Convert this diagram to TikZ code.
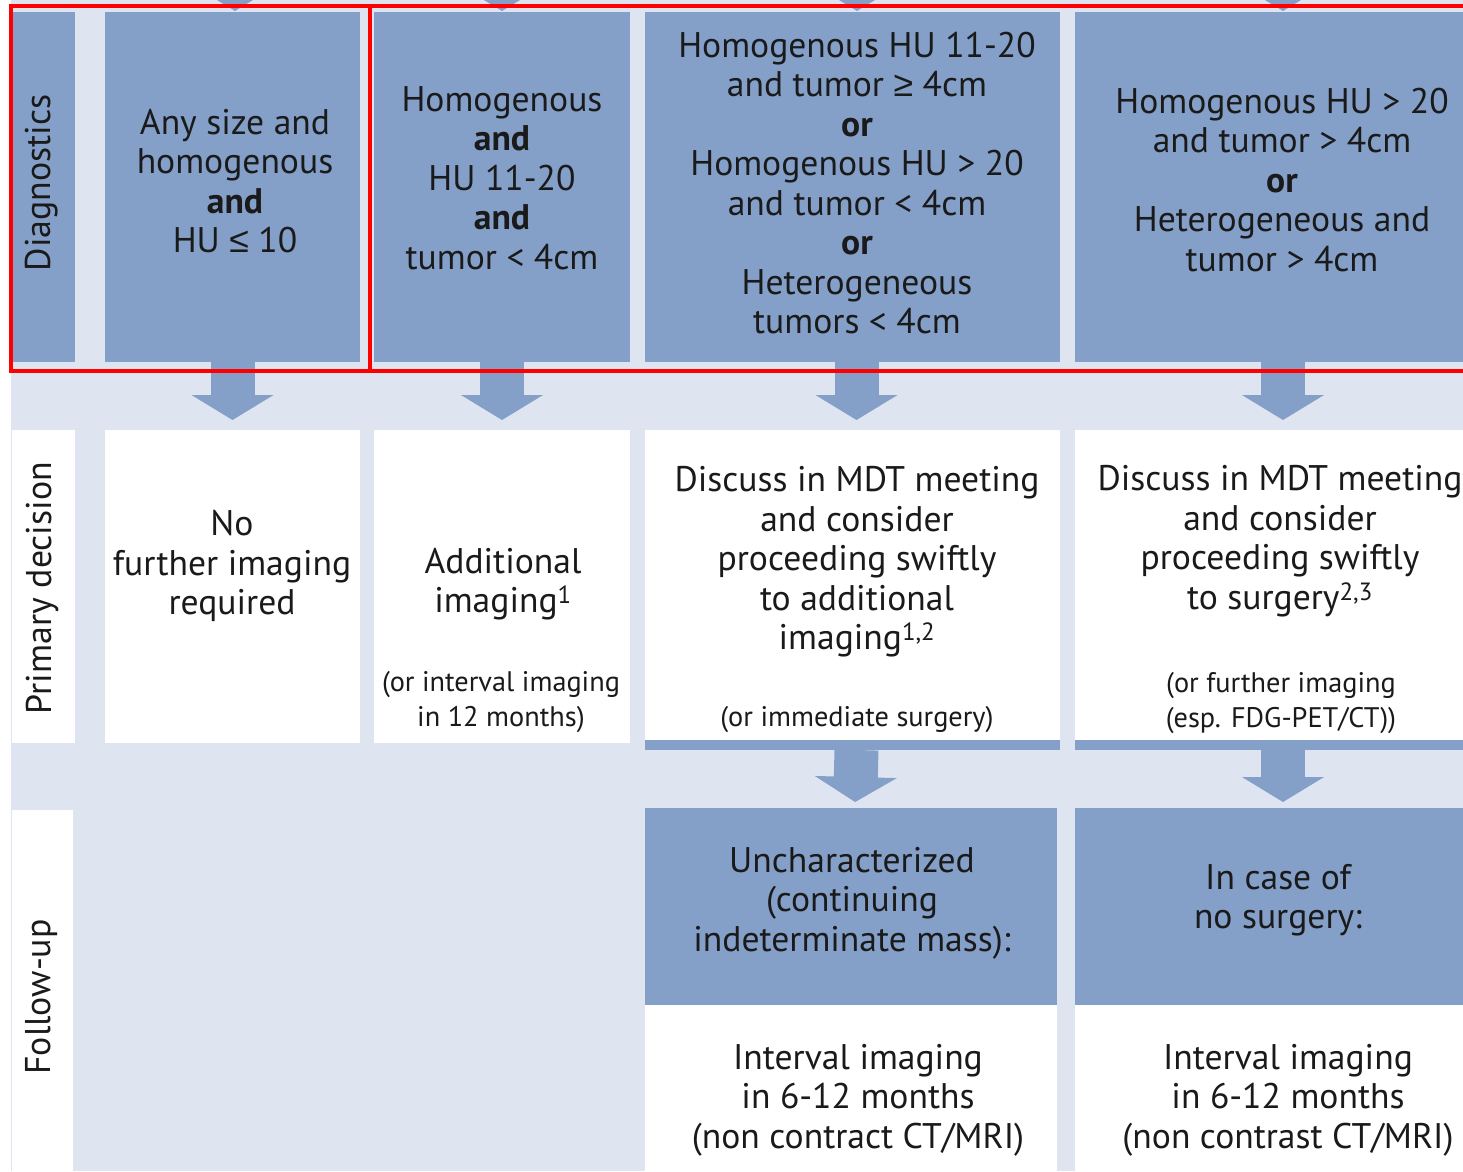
\documentclass[tikz,border=0pt]{standalone}
\usepackage{fontspec}
\setmainfont{PT Sans}
\newfontfamily\relfont{Liberation Sans}
\usetikzlibrary{arrows.meta,positioning,calc}
\definecolor{boxc}{HTML}{84A0C9}
\definecolor{backc}{HTML}{DEE5F0}
\definecolor{textc}{HTML}{1A1A1A}
\definecolor{markc}{HTML}{FF0000}
\newcommand{\lesym}{{\relfont ≤}}
\newcommand{\gesym}{{\relfont ≥}}
\tikzset{
  bluecell/.style={fill=boxc, anchor=north west, inner sep=0pt, outer sep=0pt},
  whitecell/.style={bluecell, fill=white},
  txt/.style={align=center, text=textc, inner sep=0pt,
    font=\fontsize{35.6}{39.5}\selectfont},
  note/.style={txt, font=\fontsize{28.3}{35}\selectfont},
  side/.style={txt, rotate=90, font=\fontsize{35.8}{38}\selectfont},
  flow/.style={boxc, line width=44pt, -{Triangle[width=81pt, length=25pt]}},
  redmark/.style={markc, line width=4pt}}

\begin{document}
\begin{tikzpicture}[x=1pt, y=-1pt]
  \useasboundingbox (0,0) rectangle (1463,1171);
  \clip (0,0) rectangle (1463,1171);
  \fill[white] (0,0) rectangle (1463,1171);
  \fill[backc] (11,0) rectangle (1463,1171);
  % tips of the arrows coming from the row above, cut by the page edge
  \foreach \cx in {235,502,857,1283}
    \fill[boxc] (\cx-18,0) -- (\cx+18,0) -- (\cx,11) -- cycle;
  % ---- diagnostics row
  \node[bluecell, minimum width=63pt, minimum height=350pt] (diag) at (12,12) {};
  \node[bluecell, minimum width=255pt, minimum height=350pt] (d1) at (105,12) {};
  \node[bluecell, minimum width=256pt, minimum height=350pt] (d2) at (374,12) {};
  \node[bluecell, minimum width=415pt, minimum height=350pt] (d3) at (645,12) {};
  \node[bluecell, minimum width=400pt, minimum height=350pt] (d4) at (1075,12) {};
  \node[side] (diagt) at (42,183) {Diagnostics};
  \node[txt] (d1t) at (235,181)
    {Any size and\\homogenous\\\textbf{and}\\HU \lesym\ 10};
  \node[txt] (d2t) at (502,178)
    {Homogenous\\\textbf{and}\\HU 11-20\\\textbf{and}\\tumor < 4cm};
  \node[txt] (d3t) at (857,183)
    {Homogenous HU 11-20\\and tumor \gesym\ 4cm\\\textbf{or}\\Homogenous HU > 20\\
     and tumor < 4cm\\\textbf{or}\\Heterogeneous\\tumors < 4cm};
  \node[txt] (d4t) at (1282,180)
    {Homogenous HU > 20\\and tumor > 4cm\\\textbf{or}\\Heterogeneous and\\tumor > 4cm};
  % ---- primary decision row
  \node[whitecell, minimum width=63pt, minimum height=313pt] (prim) at (12,430) {};
  \node[whitecell, minimum width=255pt, minimum height=313pt] (p1) at (105,430) {};
  \node[whitecell, minimum width=256pt, minimum height=313pt] (p2) at (374,430) {};
  \node[whitecell, minimum width=415pt, minimum height=310pt] (p3) at (645,430) {};
  \node[whitecell, minimum width=400pt, minimum height=310pt] (p4) at (1075,430) {};
  % blue strip under the two right-hand decisions
  \node[bluecell, minimum width=415pt, minimum height=10pt] (bar3) at (p3.south west) {};
  \node[bluecell, minimum width=400pt, minimum height=10pt] (bar4) at (p4.south west) {};
  \node[side] (primt) at (42,588) {Primary decision};
  \node[txt] (p1t) at (232,566) {No\\further imaging\\required};
  \node[txt] (p2t) at (503,584) {Additional\\imaging\textsuperscript{1}};
  \node[note] (p2n) at (501,702) {(or interval imaging\\in 12 months)};
  \node[txt] (p3t) at (857,562)
    {Discuss in MDT meeting\\and consider\\proceeding swiftly\\to additional\\
     imaging\textsuperscript{1,2}};
  \node[note] (p3n) at (857,720) {(or immediate surgery)};
  \node[txt] (p4t) at (1280,541)
    {Discuss in MDT meeting\\and consider\\proceeding swiftly\\to surgery\textsuperscript{2,3}};
  \node[note] (p4n) at (1281,703) {(or further imaging\\(esp. FDG-PET/CT))};
  % ---- follow-up row
  \node[whitecell, minimum width=61pt, minimum height=361pt] (foll) at (12,810) {};
  \node[bluecell, minimum width=412pt, minimum height=197pt] (f3) at (645,808) {};
  \node[whitecell, minimum width=412pt, minimum height=166pt] (g3) at (f3.south west) {};
  \node[bluecell, minimum width=400pt, minimum height=197pt] (f4) at (1075,808) {};
  \node[whitecell, minimum width=400pt, minimum height=166pt] (g4) at (f4.south west) {};
  \node[side] (follt) at (42,997) {Follow-up};
  \node[txt] (f3t) at (852,903) {Uncharacterized\\(continuing\\indeterminate mass):};
  \node[txt] (g3t) at (858,1100) {Interval imaging\\in 6-12 months\\(non contract CT/MRI)};
  \node[txt] (f4t) at (1278,900) {In case of\\no surgery:};
  \node[txt] (g4t) at (1288,1100) {Interval imaging\\in 6-12 months\\(non contrast CT/MRI)};
  % ---- arrows between the rows
  \draw[flow, shorten >=10pt] (d1.south) -- (p1.north);
  \draw[flow, shorten >=10pt] (d2.south) -- (p2.north);
  \draw[flow, shorten >=10pt] ([xshift=4pt]d3.south) -- ([xshift=4pt]p3.north);
  \draw[flow, shorten >=10pt] ([xshift=8pt]d4.south) -- ([xshift=8pt]d4.south |- p4.north);
  \draw[flow, shorten >=6pt] ([xshift=4pt]bar3.south) -- ([xshift=4pt]f3.north);
  \draw[flow, shorten >=6pt] ([xshift=8pt]bar4.south) -- ([xshift=8pt]bar4.south |- f4.north);
  % ---- red marks round the first two columns
  \draw[redmark] (diag.north west) ++(-1,-6) rectangle (369.5,371);
  \draw[redmark] (369.5,6) rectangle (1480,371);
\end{tikzpicture}
\end{document}
